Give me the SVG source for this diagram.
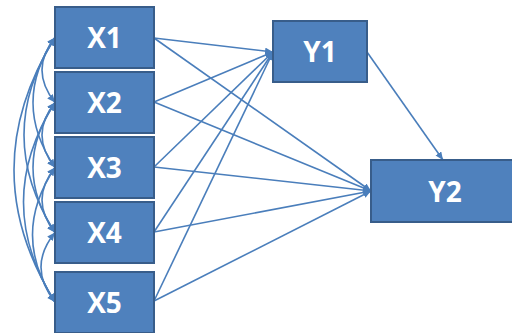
<svg xmlns="http://www.w3.org/2000/svg" width="512" height="333" viewBox="0 0 512 333">
  <style>
    .box { fill: #4F81BD; stroke: #385D8A; stroke-width: 2; }
    .lbl { fill: #FFFFFF; font-family: "Open Sans", "Liberation Sans", sans-serif; font-weight: bold; font-size: 28px; text-anchor: middle; }
    .path { fill: none; stroke: #4A7EBB; stroke-width: 1.6; }
    .one { marker-end: url(#head); }
    .two { marker-start: url(#head); marker-end: url(#head); }
  </style>
  <defs>
    <marker id="head" markerUnits="userSpaceOnUse" markerWidth="9" markerHeight="8" refX="8" refY="3.5" orient="auto-start-reverse">
      <path d="M0,0 L8,3.5 L0,7 Z" fill="#4A7EBB"/>
    </marker>
  </defs>

  <rect width="512" height="333" fill="#FFFFFF"/>

  <g id="connectors">
    <!-- X to Y1 -->
    <path class="path one" d="M154,38 L273,52"/>
    <path class="path one" d="M154,102 L273,52"/>
    <path class="path one" d="M154,167 L273,52"/>
    <path class="path one" d="M154,232 L273,52"/>
    <path class="path one" d="M154,301 L273,52"/>
    <!-- X to Y2 -->
    <path class="path one" d="M154,38 L371,191"/>
    <path class="path one" d="M154,102 L371,191"/>
    <path class="path one" d="M154,167 L371,191"/>
    <path class="path one" d="M154,232 L371,191"/>
    <path class="path one" d="M154,301 L371,191"/>
    <!-- Y1 to Y2 -->
    <path class="path one" d="M367,52 L443,160"/>
    <!-- covariances among X -->
    <path class="path two" d="M55,37.5 Q29,70 55,102.5"/>
    <path class="path two" d="M55,102.5 Q29,135 55,167.5"/>
    <path class="path two" d="M55,167.5 Q29,200 55,232.5"/>
    <path class="path two" d="M55,232.5 Q27,267 55,302"/>
    <path class="path two" d="M55,37.5 Q11,102.5 55,167.5"/>
    <path class="path two" d="M55,102.5 Q11,167.5 55,232.5"/>
    <path class="path two" d="M55,167.5 Q10,235 55,302"/>
    <path class="path two" d="M55,37.5 Q-7,135 55,232.5"/>
    <path class="path two" d="M55,102.5 Q-8,202 55,302"/>
    <path class="path two" d="M55,37.5 Q-27,170 55,302"/>
  </g>

  <g id="X1"><rect class="box" x="55" y="7" width="99" height="61"/><text class="lbl" x="104.5" y="48">X1</text></g>
  <g id="X2"><rect class="box" x="55" y="72" width="99" height="61"/><text class="lbl" x="104.5" y="113">X2</text></g>
  <g id="X3"><rect class="box" x="55" y="137" width="99" height="61"/><text class="lbl" x="104.5" y="178">X3</text></g>
  <g id="X4"><rect class="box" x="55" y="202" width="99" height="61"/><text class="lbl" x="104.5" y="243">X4</text></g>
  <g id="X5"><rect class="box" x="55" y="272" width="99" height="61"/><text class="lbl" x="104.5" y="312.5">X5</text></g>
  <g id="Y1"><rect class="box" x="273" y="21" width="94" height="61"/><text class="lbl" x="320" y="62">Y1</text></g>
  <g id="Y2"><rect class="box" x="371" y="160" width="148" height="62"/><text class="lbl" x="445" y="201.5">Y2</text></g>
</svg>
